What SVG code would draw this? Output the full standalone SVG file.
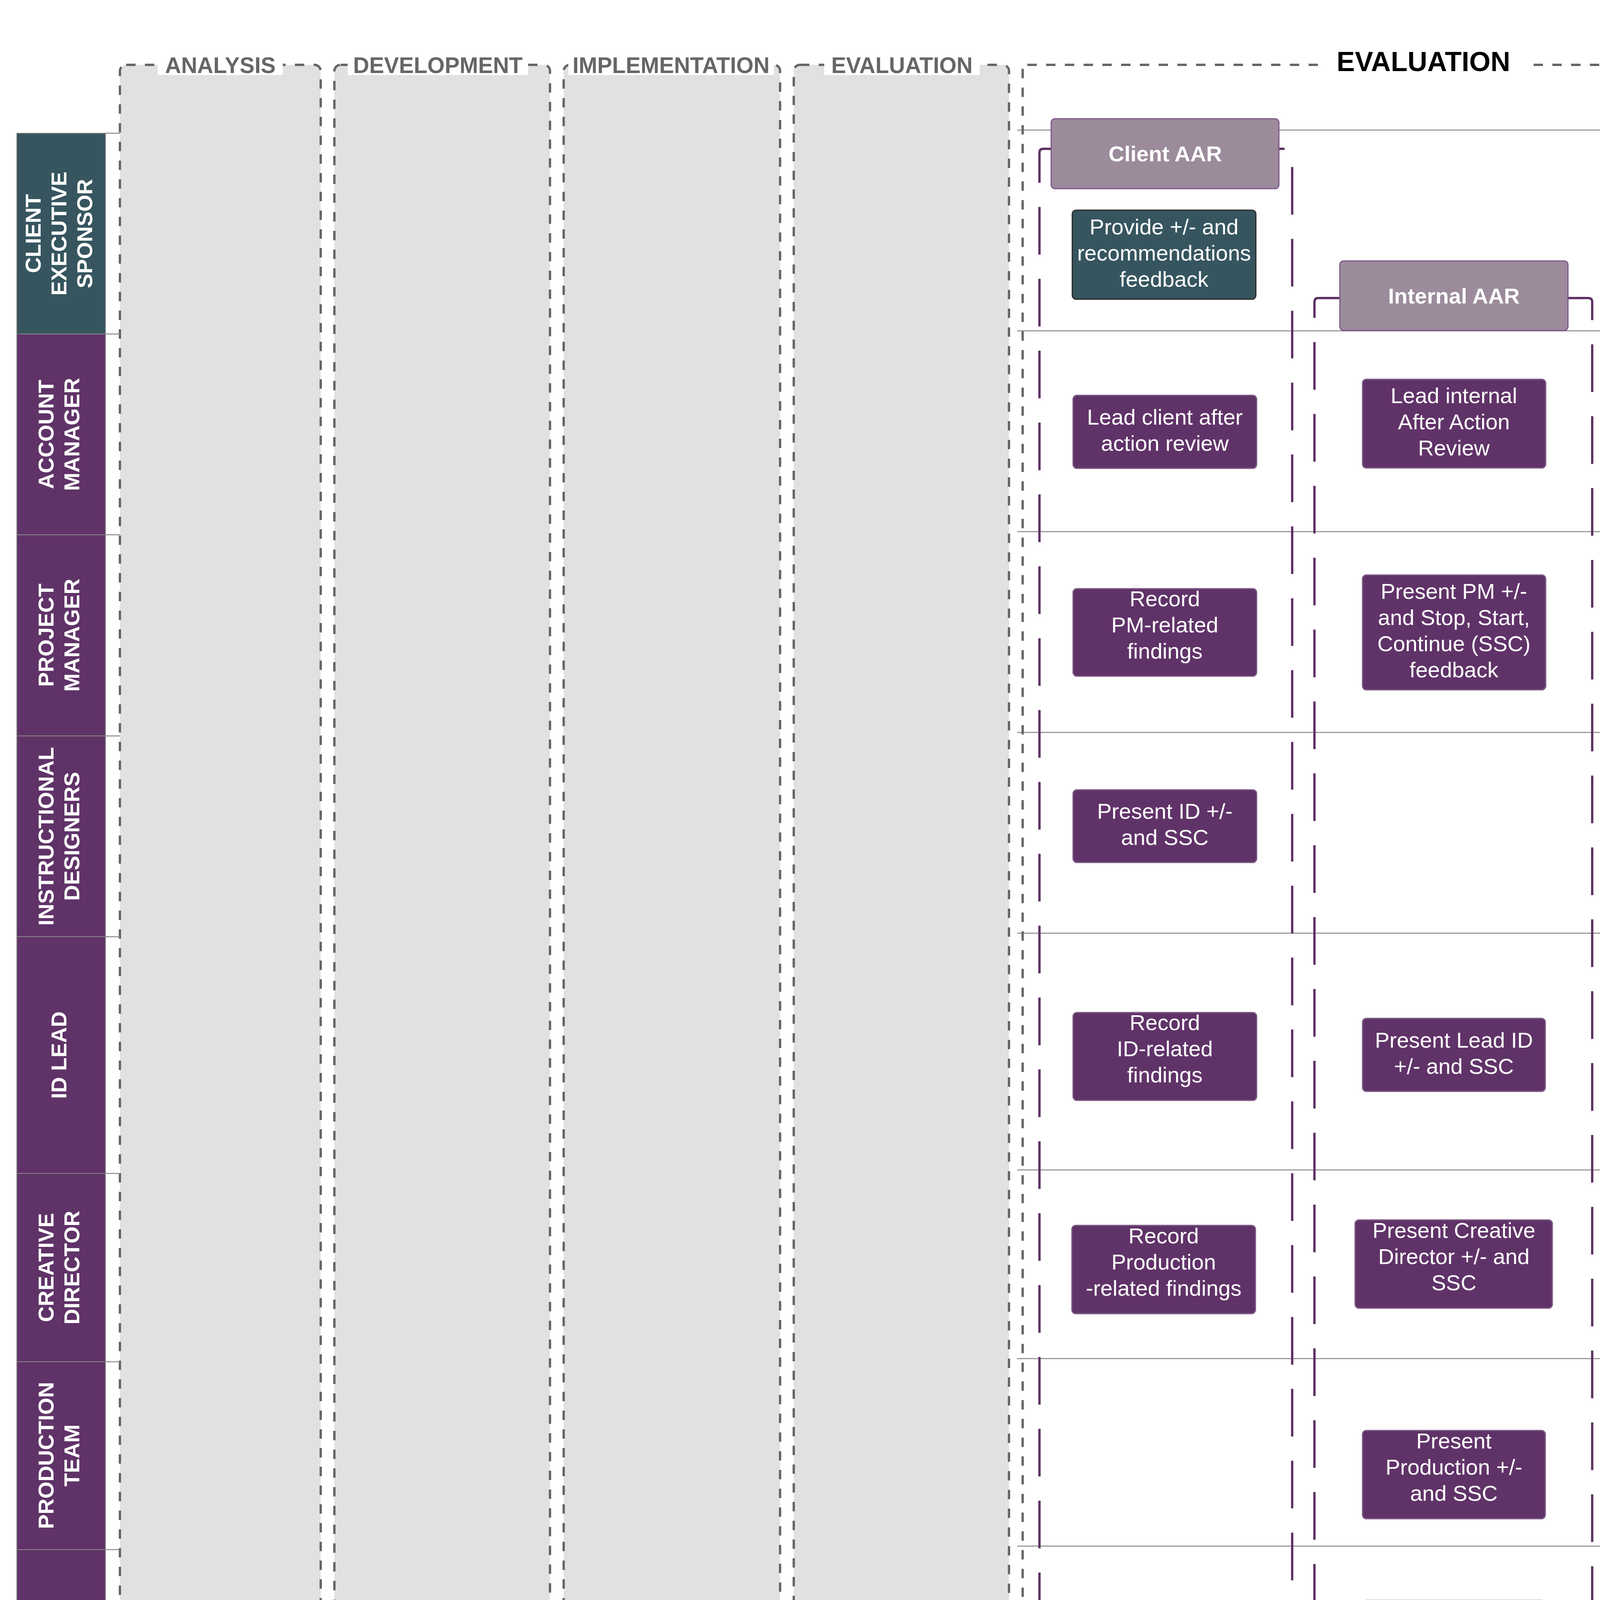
<svg xmlns="http://www.w3.org/2000/svg" width="4813" height="6152" viewBox="0 0 4813 6152">
<style>
.bg{fill:#ffffff}
.col{fill:#e1e1e1;stroke:#666666;stroke-width:6;stroke-dasharray:24 24}
.evalbox{fill:none;stroke:#666666;stroke-width:6;stroke-dasharray:24 24}
.lbl{fill:#ffffff}
.phase{font-family:"Liberation Sans",Arial,sans-serif;font-weight:bold;font-size:57px;fill:#666666;text-anchor:middle}
.title{font-family:"Liberation Sans",Arial,sans-serif;font-weight:bold;font-size:70px;fill:#000000;text-anchor:middle}
.lt{fill:#36555f;stroke:#888888;stroke-width:2}
.lp{fill:#603368;stroke:#888888;stroke-width:2}
.lanetxt{font-family:"Liberation Sans",Arial,sans-serif;font-weight:bold;font-size:56px;fill:#ffffff;text-anchor:middle}
.lline{stroke:#888888;stroke-width:2.5;fill:none}
.frame{fill:none;stroke:#5f3366;stroke-width:6;stroke-dasharray:122 62}
.hdr{fill:#9b8b9b;stroke:#7f5a8a;stroke-width:3}
.hdrtxt{font-family:"Liberation Sans",Arial,sans-serif;font-weight:bold;font-size:56px;fill:#ffffff;text-anchor:middle}
.np{fill:#603368;stroke:#7c5a84;stroke-width:3}
.nt{fill:#36555f;stroke:#2a2a2a;stroke-width:3}
.ntxt{font-family:"Liberation Sans",Arial,sans-serif;font-size:56px;fill:#ffffff;text-anchor:middle}
</style>
<rect class="bg" x="0" y="0" width="4813" height="6152"/>

<g id="phase-columns">
  <rect class="col" x="307" y="166" width="514" height="5879" rx="16"/>
  <rect class="col" x="856" y="166" width="552" height="5883" rx="16"/>
  <rect class="col" x="1443" y="166" width="554" height="5879" rx="16"/>
  <rect class="col" x="2032" y="166" width="551" height="5879" rx="16"/>
  <rect class="lbl" x="404" y="140" width="320" height="52"/>
  <text class="phase" x="564" y="187">ANALYSIS</text>
  <rect class="lbl" x="890" y="140" width="462" height="52"/>
  <text class="phase" x="1121" y="187">DEVELOPMENT</text>
  <rect class="lbl" x="1455" y="140" width="526" height="52"/>
  <text class="phase" x="1718" y="187">IMPLEMENTATION</text>
  <rect class="lbl" x="2110" y="140" width="398" height="52"/>
  <text class="phase" x="2309" y="187">EVALUATION</text>
</g>

<g id="lane-lines">
  <line class="lline" x1="270" y1="341" x2="307" y2="341"/>
  <line class="lline" x1="270" y1="855" x2="307" y2="855"/>
  <line class="lline" x1="270" y1="1369" x2="307" y2="1369"/>
  <line class="lline" x1="270" y1="1884" x2="307" y2="1884"/>
  <line class="lline" x1="270" y1="2398" x2="307" y2="2398"/>
  <line class="lline" x1="270" y1="3004" x2="307" y2="3004"/>
  <line class="lline" x1="270" y1="3486" x2="307" y2="3486"/>
  <line class="lline" x1="270" y1="3967" x2="307" y2="3967"/>
  <line class="lline" x1="270" y1="4463" x2="307" y2="4463"/>
  <line class="lline" x1="270" y1="4959" x2="307" y2="4959"/>
  <line class="lline" x1="270" y1="5454" x2="307" y2="5454"/>
  <line class="lline" x1="270" y1="5949" x2="307" y2="5949"/>
  <line class="lline" x1="2604" y1="333" x2="4710" y2="333"/>
  <line class="lline" x1="2604" y1="847" x2="4710" y2="847"/>
  <line class="lline" x1="2604" y1="1361" x2="4710" y2="1361"/>
  <line class="lline" x1="2604" y1="1875" x2="4710" y2="1875"/>
  <line class="lline" x1="2604" y1="2389" x2="4710" y2="2389"/>
  <line class="lline" x1="2604" y1="2995" x2="4710" y2="2995"/>
  <line class="lline" x1="2604" y1="3478" x2="4710" y2="3478"/>
  <line class="lline" x1="2604" y1="3958" x2="4710" y2="3958"/>
  <line class="lline" x1="2604" y1="4454" x2="4710" y2="4454"/>
  <line class="lline" x1="2604" y1="4950" x2="4710" y2="4950"/>
  <line class="lline" x1="2604" y1="5444" x2="4710" y2="5444"/>
  <line class="lline" x1="2604" y1="5940" x2="4710" y2="5940"/>
  <line class="lline" x1="4710" y1="333" x2="4710" y2="5940"/>
</g>

<g id="evaluation-box">
  <rect class="evalbox" x="2618" y="166" width="2053" height="5874" rx="12"/>
  <rect class="lbl" x="3375" y="118" width="537" height="80"/>
  <text class="title" x="3644" y="182">EVALUATION</text>
</g>

<g id="lane-headers">
  <g id="lane-client-executive-sponsor">
    <rect class="lt" x="43" y="341" width="227" height="514"/>
    <text class="lanetxt" transform="translate(150 598) rotate(-90)"><tspan x="0" y="-46">CLIENT</tspan><tspan x="0" y="20">EXECUTIVE</tspan><tspan x="0" y="86">SPONSOR</tspan></text>
  </g>
  <g id="lane-account-manager">
    <rect class="lp" x="43" y="855" width="227" height="514"/>
    <text class="lanetxt" transform="translate(150 1112) rotate(-90)"><tspan x="0" y="-13">ACCOUNT</tspan><tspan x="0" y="53">MANAGER</tspan></text>
  </g>
  <g id="lane-project-manager">
    <rect class="lp" x="43" y="1369" width="227" height="515"/>
    <text class="lanetxt" transform="translate(150 1626) rotate(-90)"><tspan x="0" y="-13">PROJECT</tspan><tspan x="0" y="53">MANAGER</tspan></text>
  </g>
  <g id="lane-instructional-designers">
    <rect class="lp" x="43" y="1884" width="227" height="514"/>
    <text class="lanetxt" transform="translate(150 2141) rotate(-90)"><tspan x="0" y="-13">INSTRUCTIONAL</tspan><tspan x="0" y="53">DESIGNERS</tspan></text>
  </g>
  <g id="lane-id-lead">
    <rect class="lp" x="43" y="2398" width="227" height="606"/>
    <text class="lanetxt" transform="translate(150 2701) rotate(-90)"><tspan x="0" y="20">ID LEAD</tspan></text>
  </g>
  <g id="lane-creative-director">
    <rect class="lp" x="43" y="3004" width="227" height="482"/>
    <text class="lanetxt" transform="translate(150 3245) rotate(-90)"><tspan x="0" y="-13">CREATIVE</tspan><tspan x="0" y="53">DIRECTOR</tspan></text>
  </g>
  <g id="lane-production-team">
    <rect class="lp" x="43" y="3486" width="227" height="481"/>
    <text class="lanetxt" transform="translate(150 3726) rotate(-90)"><tspan x="0" y="-13">PRODUCTION</tspan><tspan x="0" y="53">TEAM</tspan></text>
  </g>
  <g id="lane-qa">
    <rect class="lp" x="43" y="3967" width="227" height="496"/>
    <text class="lanetxt" transform="translate(150 4215) rotate(-90)"><tspan x="0" y="20">QA</tspan></text>
  </g>
  <g id="lane-lead-sme">
    <rect class="lt" x="43" y="4463" width="227" height="496"/>
    <text class="lanetxt" transform="translate(150 4711) rotate(-90)"><tspan x="0" y="20">LEAD SME</tspan></text>
  </g>
  <g id="lane-sme-topic-owner">
    <rect class="lt" x="43" y="4959" width="227" height="495"/>
    <text class="lanetxt" transform="translate(150 5206) rotate(-90)"><tspan x="0" y="-13">SME TOPIC</tspan><tspan x="0" y="53">OWNER</tspan></text>
  </g>
  <g id="lane-client-curriculum-team">
    <rect class="lt" x="43" y="5454" width="227" height="495"/>
    <text class="lanetxt" transform="translate(150 5701) rotate(-90)"><tspan x="0" y="-46">CLIENT</tspan><tspan x="0" y="20">CURRICULUM</tspan><tspan x="0" y="86">TEAM</tspan></text>
  </g>
</g>

<g id="group-frames">
  <path class="frame" d="M 2700 381 H 2671 Q 2661 381 2661 391 V 5914 Q 2661 5924 2671 5924 H 3298 Q 3308 5924 3308 5914 V 391 Q 3308 381 3298 381 H 3270"/>
  <path class="frame" d="M 3440 763 H 3375 Q 3365 763 3365 773 V 5914 Q 3365 5924 3375 5924 H 4066 Q 4076 5924 4076 5914 V 773 Q 4076 763 4066 763 H 4000"/>
</g>

<g id="client-aar">
  <rect class="hdr" x="2691" y="304" width="583" height="179" rx="10"/>
  <text class="hdrtxt" x="2983" y="413">Client AAR</text>
</g>
<g id="internal-aar">
  <rect class="hdr" x="3430" y="668" width="584" height="178" rx="10"/>
  <text class="hdrtxt" x="3722" y="777">Internal AAR</text>
</g>

<g id="n-ces-provide">
  <rect class="nt" x="2745" y="538" width="470" height="228" rx="10"/>
  <text class="ntxt" x="2980" y="600"><tspan x="2980">Provide +/- and</tspan><tspan x="2980" dy="67">recommendations</tspan><tspan x="2980" dy="67">feedback</tspan></text>
</g>
<g id="n-am-lead-client">
  <rect class="np" x="2747" y="1012" width="470" height="187" rx="10"/>
  <text class="ntxt" x="2982" y="1087"><tspan x="2982">Lead client after</tspan><tspan x="2982" dy="67">action review</tspan></text>
</g>
<g id="n-pm-record">
  <rect class="np" x="2747" y="1507" width="470" height="224" rx="10"/>
  <text class="ntxt" x="2982" y="1552"><tspan x="2982">Record</tspan><tspan x="2982" dy="67">PM-related</tspan><tspan x="2982" dy="67">findings</tspan></text>
</g>
<g id="n-id-present">
  <rect class="np" x="2747" y="2022" width="470" height="186" rx="10"/>
  <text class="ntxt" x="2982" y="2096"><tspan x="2982">Present ID +/-</tspan><tspan x="2982" dy="67">and SSC</tspan></text>
</g>
<g id="n-idlead-record">
  <rect class="np" x="2747" y="2592" width="470" height="225" rx="10"/>
  <text class="ntxt" x="2982" y="2637"><tspan x="2982">Record</tspan><tspan x="2982" dy="67">ID-related</tspan><tspan x="2982" dy="67">findings</tspan></text>
</g>
<g id="n-cd-record">
  <rect class="np" x="2744" y="3137" width="470" height="226" rx="10"/>
  <text class="ntxt" x="2979" y="3183"><tspan x="2979">Record</tspan><tspan x="2979" dy="67">Production</tspan><tspan x="2979" dy="67">-related findings</tspan></text>
</g>
<g id="n-sme-provide">
  <rect class="nt" x="2747" y="4574" width="470" height="226" rx="10"/>
  <text class="ntxt" x="2982" y="4620"><tspan x="2982">Provide +/- and</tspan><tspan x="2982" dy="67">recommendations</tspan><tspan x="2982" dy="67">feedback</tspan></text>
</g>
<g id="n-cct-provide">
  <rect class="nt" x="2747" y="5563" width="470" height="227" rx="10"/>
  <text class="ntxt" x="2982" y="5609"><tspan x="2982">Provide +/- and</tspan><tspan x="2982" dy="67">recommendations</tspan><tspan x="2982" dy="67">feedback</tspan></text>
</g>

<g id="n-am-lead-internal">
  <rect class="np" x="3488" y="971" width="469" height="227" rx="10"/>
  <text class="ntxt" x="3722" y="1032"><tspan x="3722">Lead internal</tspan><tspan x="3722" dy="67">After Action</tspan><tspan x="3722" dy="67">Review</tspan></text>
</g>
<g id="n-pm-present">
  <rect class="np" x="3488" y="1472" width="469" height="294" rx="10"/>
  <text class="ntxt" x="3722" y="1533"><tspan x="3722">Present PM +/-</tspan><tspan x="3722" dy="67">and Stop, Start,</tspan><tspan x="3722" dy="67">Continue (SSC)</tspan><tspan x="3722" dy="67">feedback</tspan></text>
</g>
<g id="n-idlead-present">
  <rect class="np" x="3488" y="2607" width="468" height="187" rx="10"/>
  <text class="ntxt" x="3722" y="2682"><tspan x="3722">Present Lead ID</tspan><tspan x="3722" dy="67">+/- and SSC</tspan></text>
</g>
<g id="n-cd-present">
  <rect class="np" x="3469" y="3123" width="505" height="226" rx="10"/>
  <text class="ntxt" x="3722" y="3169"><tspan x="3722">Present Creative</tspan><tspan x="3722" dy="67">Director +/- and</tspan><tspan x="3722" dy="67">SSC</tspan></text>
</g>
<g id="n-prod-present">
  <rect class="np" x="3488" y="3662" width="468" height="226" rx="10"/>
  <text class="ntxt" x="3722" y="3708"><tspan x="3722">Present</tspan><tspan x="3722" dy="67">Production +/-</tspan><tspan x="3722" dy="67">and SSC</tspan></text>
</g>
<g id="n-qa-present">
  <rect class="np" x="3488" y="4097" width="468" height="187" rx="10"/>
  <text class="ntxt" x="3722" y="4172"><tspan x="3722">Present QA +/-</tspan><tspan x="3722" dy="67">and SSC</tspan></text>
</g>

<g id="n-pm-document">
  <rect class="np" x="4132" y="1481" width="469" height="292" rx="10"/>
  <text class="ntxt" x="4366" y="1541"><tspan x="4366">Document PM</tspan><tspan x="4366" dy="67">recommendations</tspan><tspan x="4366" dy="67">for process</tspan><tspan x="4366" dy="67">updates</tspan></text>
</g>
<g id="n-idlead-document">
  <rect class="np" x="4132" y="2558" width="469" height="293" rx="10"/>
  <text class="ntxt" x="4366" y="2619"><tspan x="4366">Document ID</tspan><tspan x="4366" dy="67">recommendations</tspan><tspan x="4366" dy="67">for process</tspan><tspan x="4366" dy="67">updates</tspan></text>
</g>
<g id="n-cd-document">
  <rect class="np" x="4132" y="3071" width="469" height="360" rx="10"/>
  <text class="ntxt" x="4366" y="3118"><tspan x="4366">Document</tspan><tspan x="4366" dy="67">Production</tspan><tspan x="4366" dy="67">recommendations</tspan><tspan x="4366" dy="67">for process</tspan><tspan x="4366" dy="67">updates</tspan></text>
</g>
</svg>
